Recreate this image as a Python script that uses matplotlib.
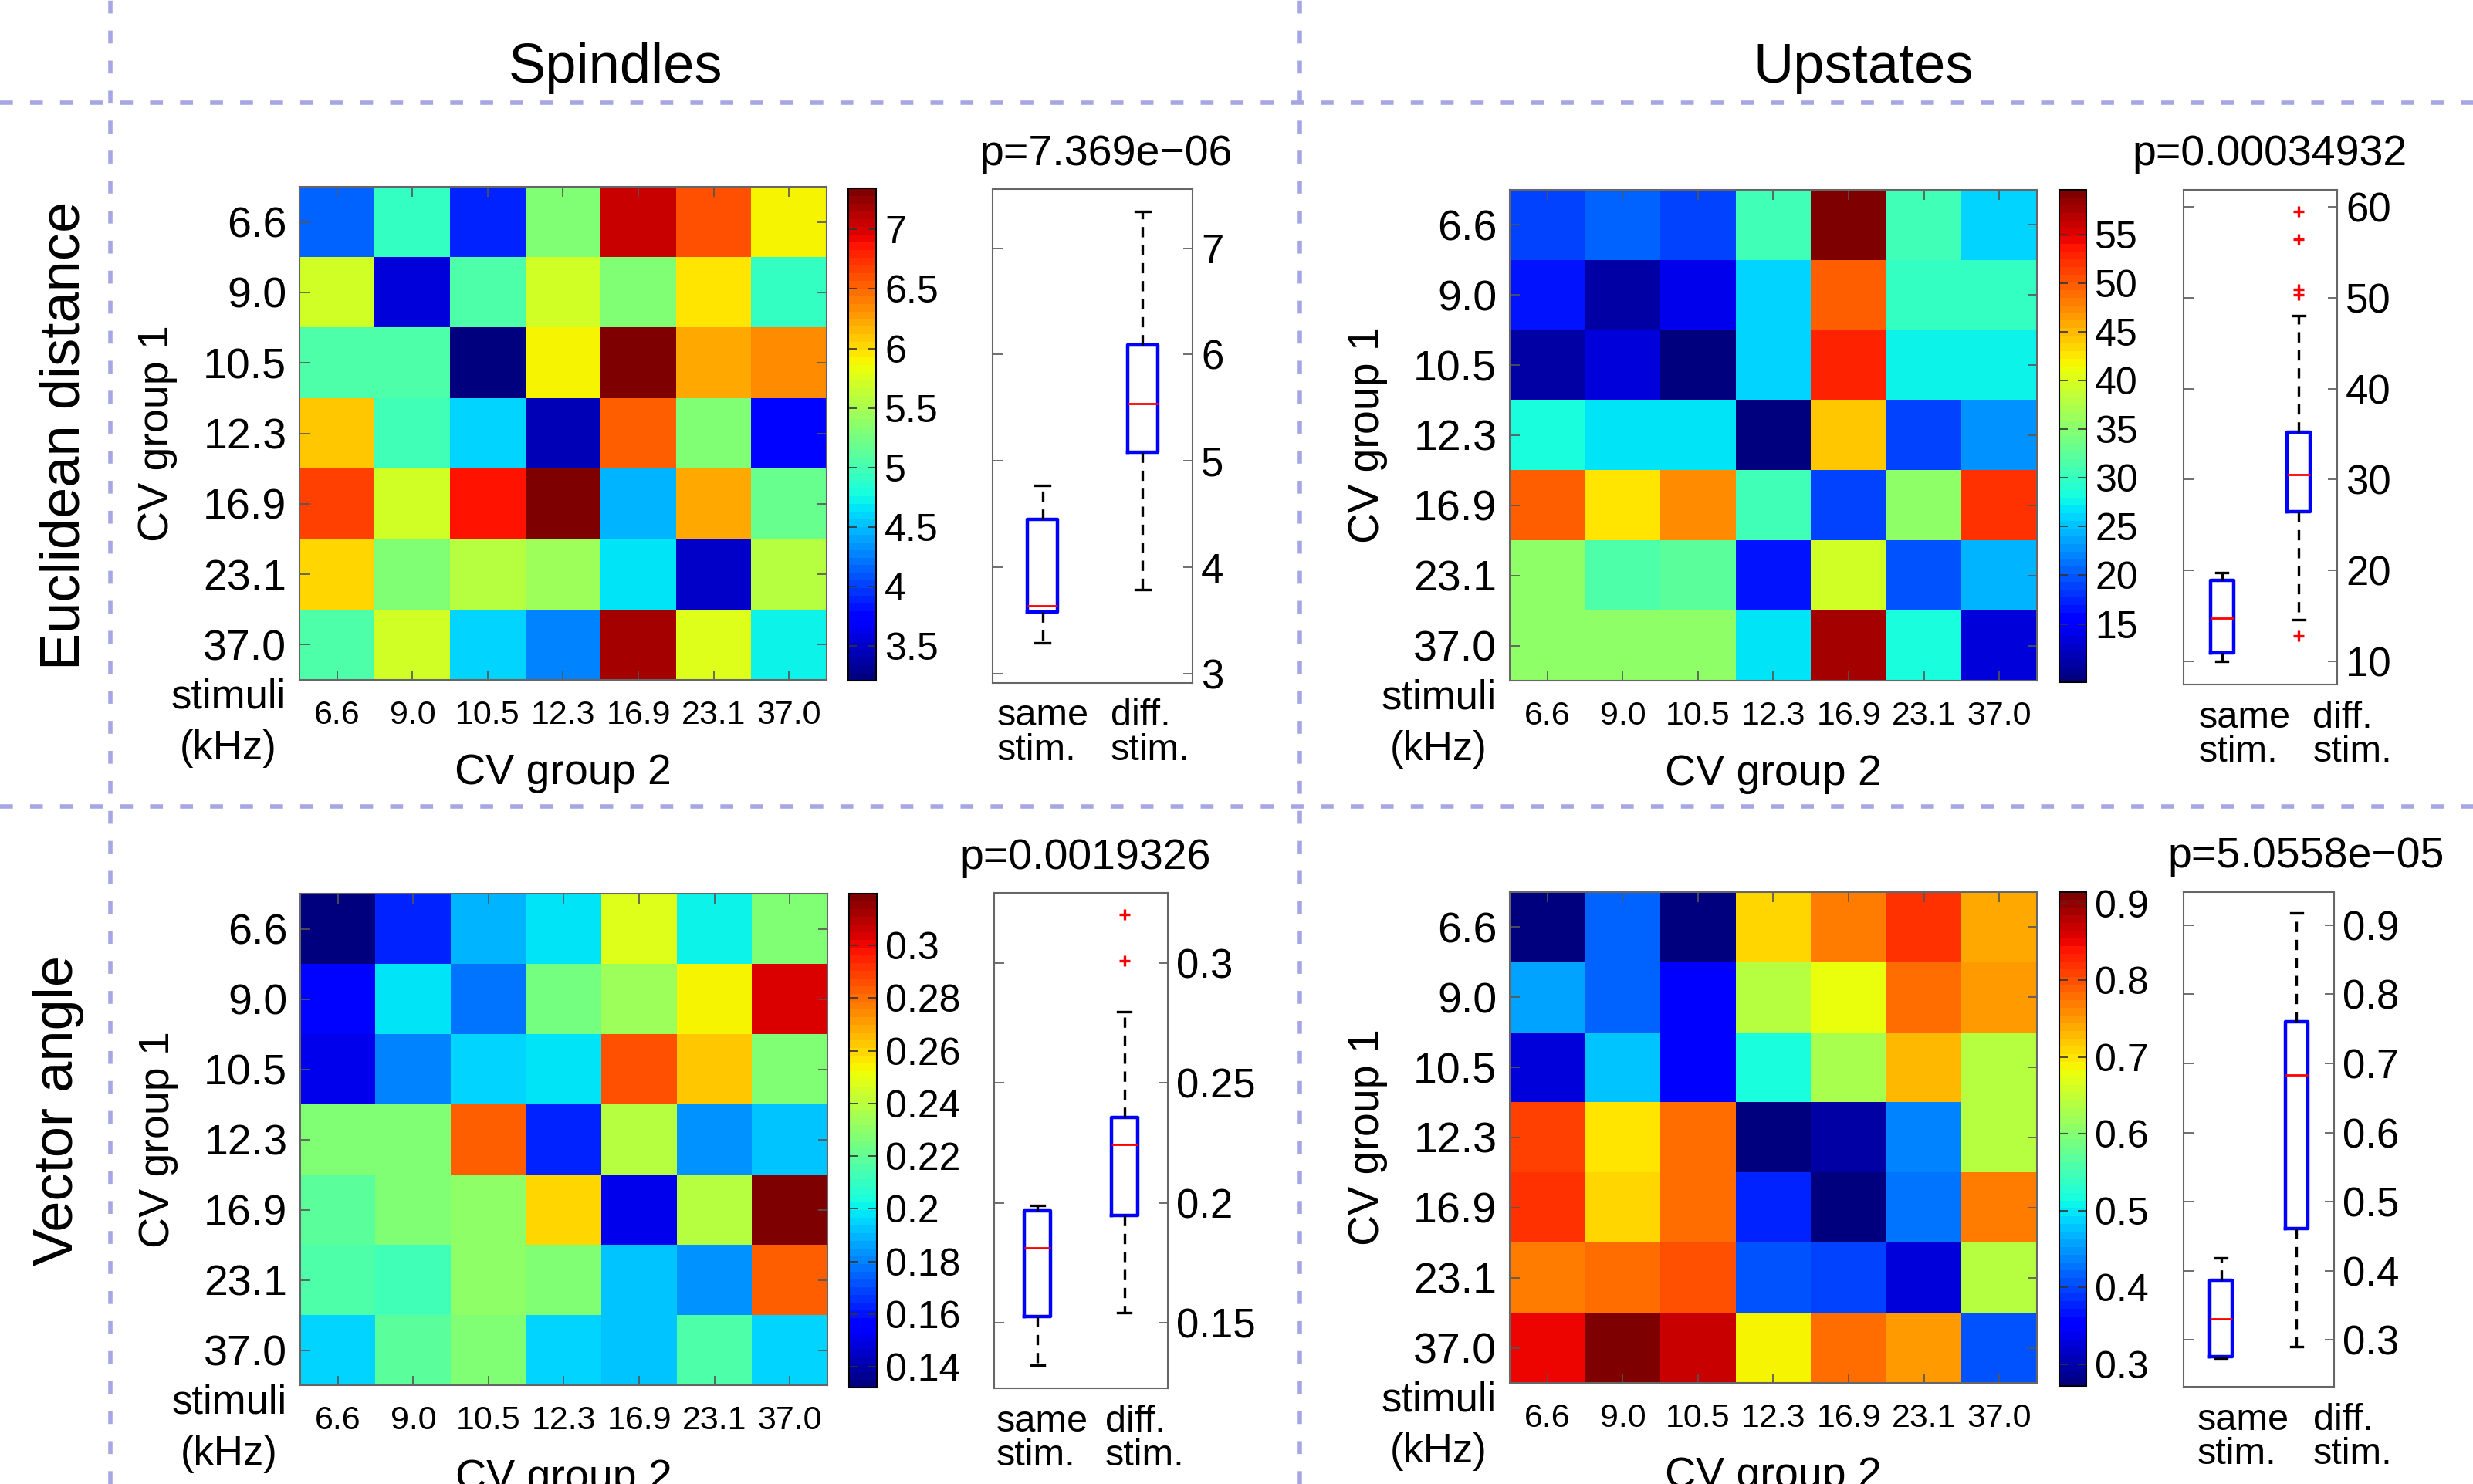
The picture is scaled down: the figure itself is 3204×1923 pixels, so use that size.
import numpy as np
import matplotlib
matplotlib.use("Agg")
import matplotlib.pyplot as plt
from matplotlib.lines import Line2D
from matplotlib.ticker import FormatStrFormatter

plt.rcParams['font.family'] = ['Liberation Sans', 'DejaVu Sans']

W, H = 3205, 1923

freqs = ['6.6', '9.0', '10.5', '12.3', '16.9', '23.1', '37.0']

# rows = CV group 1, cols = CV group 2
spindle_dist = [
    [4.14, 4.91, 3.86, 5.34, 7.07, 6.62, 5.86],
    [5.68, 3.54, 5.07, 5.68, 5.34, 5.94, 4.91],
    [5.07, 5.05, 3.21, 5.92, 7.345, 6.23, 6.35],
    [6.08, 4.99, 4.62, 3.42, 6.51, 5.30, 3.79],
    [6.67, 5.68, 6.83, 7.34, 4.48, 6.23, 5.17],
    [6.00, 5.34, 5.60, 5.43, 4.69, 3.48, 5.60],
    [5.07, 5.68, 4.62, 4.28, 7.19, 5.77, 4.70],
]
upstate_dist = [
    [18.6, 20.1, 18.5, 30.8, 59.56, 30.8, 26.3],
    [16.5, 10.9, 13.8, 26.3, 49.3, 29.7, 29.7],
    [10.9, 13.1, 9.4, 26.3, 53.2, 27.2, 27.7],
    [28.7, 27.1, 26.5, 9.02, 44.1, 18.5, 22.5],
    [49.7, 42.4, 47.7, 30.8, 18.5, 35.1, 52.3],
    [35.1, 31.8, 32.5, 16.6, 39.2, 19.3, 24.6],
    [35.1, 35.1, 35.1, 27.1, 57.7, 28.7, 13.1],
]
spindle_angle = [
    [0.1334, 0.1617, 0.1899, 0.1993, 0.2484, 0.2015, 0.2268],
    [0.1584, 0.1993, 0.1762, 0.2250, 0.2327, 0.2550, 0.3047],
    [0.1499, 0.1790, 0.1963, 0.1993, 0.2869, 0.2615, 0.2287],
    [0.2268, 0.2287, 0.2831, 0.1617, 0.2403, 0.1837, 0.1931],
    [0.2193, 0.2268, 0.2306, 0.2587, 0.1499, 0.2403, 0.3197],
    [0.2165, 0.2128, 0.2306, 0.2268, 0.1931, 0.1820, 0.2816],
    [0.1963, 0.2193, 0.2268, 0.1963, 0.1931, 0.2165, 0.1963],
]
upstate_angle = [
    [0.276, 0.416, 0.280, 0.712, 0.770, 0.822, 0.741],
    [0.458, 0.416, 0.342, 0.634, 0.683, 0.784, 0.753],
    [0.323, 0.481, 0.342, 0.522, 0.630, 0.728, 0.634],
    [0.810, 0.696, 0.780, 0.2715, 0.295, 0.438, 0.634],
    [0.822, 0.706, 0.780, 0.373, 0.276, 0.427, 0.770],
    [0.770, 0.784, 0.802, 0.405, 0.402, 0.323, 0.634],
    [0.851, 0.915, 0.873, 0.690, 0.780, 0.748, 0.412],
]

clim_sd = (3.21, 7.345)
clim_ud = (9.02, 59.56)
clim_sa = (0.1321, 0.3197)
clim_ua = (0.2715, 0.915)

cticks_sd = [3.5, 4, 4.5, 5, 5.5, 6, 6.5, 7]
cticks_ud = [15, 20, 25, 30, 35, 40, 45, 50, 55]
cticks_sa = [0.14, 0.16, 0.18, 0.2, 0.22, 0.24, 0.26, 0.28, 0.3]
cticks_ua = [0.3, 0.4, 0.5, 0.6, 0.7, 0.8, 0.9]

# box stats: whislo, q1, med, q3, whishi
same_sd = [3.29, 3.58, 3.64, 4.45, 4.77]
diff_sd = [3.79, 5.08, 5.54, 6.09, 7.345]
same_ud = [10.0, 10.93, 14.75, 18.9, 19.73]
diff_ud = [14.6, 26.43, 30.58, 35.2, 48.03]
fliers_ud = [12.8, 50.36, 50.97, 56.5, 59.5]
same_sa = [0.1322, 0.1526, 0.1813, 0.1967, 0.199]
diff_sa = [0.1543, 0.1948, 0.2244, 0.2355, 0.2798]
fliers_sa = [0.3009, 0.3202]
same_ua = [0.2734, 0.276, 0.330, 0.386, 0.4186]
diff_ua = [0.2904, 0.4609, 0.6838, 0.7605, 0.9174]

bylim_sd, byticks_sd = (2.913, 7.556), [3, 4, 5, 6, 7]
bylim_ud, byticks_ud = (7.44, 61.9), [10, 20, 30, 40, 50, 60]
bylim_sa, byticks_sa = (0.1227, 0.3292), [0.15, 0.2, 0.25, 0.3]
bylim_ua, byticks_ua = (0.232, 0.948), [0.3, 0.4, 0.5, 0.6, 0.7, 0.8, 0.9]

pvals = ['p=7.369e\u221206', 'p=0.00034932', 'p=0.0019326', 'p=5.0558e\u221205']
box_names = ['same\nstim.', 'diff.\nstim.']

cmap = plt.get_cmap('jet', 64)


def rect(r):
    x0, y0, x1, y1 = r
    return [x0 / W, 1 - y1 / H, (x1 - x0) / W, (y1 - y0) / H]


def stat(v, fl=()):
    return dict(whislo=v[0], q1=v[1], med=v[2], q3=v[3], whishi=v[4], fliers=list(fl))


def panel(fig, hm, clim, cticks, same, diff, fl, bylim, byticks, ptxt,
          hm_r, cb_r, bx_r, p_xy, lab_x):
    ax = fig.add_axes(rect(hm_r))
    im = ax.imshow(np.array(hm), cmap=cmap, vmin=clim[0], vmax=clim[1],
                   aspect='auto', interpolation='nearest')
    ax.set_xticks(range(7))
    ax.set_xticklabels(freqs, fontsize=31)
    ax.set_yticks(range(7))
    ax.set_yticklabels(freqs, fontsize=40)
    ax.tick_params(direction='in', length=9, width=1.2, color='#555555',
                   top=True, right=True)
    ax.tick_params(axis='x', pad=19)
    ax.tick_params(axis='y', pad=12)
    for s in ax.spines.values():
        s.set_color('#666666')
        s.set_linewidth(1.5)
    ax.text(-0.135, -0.035, 'stimuli', transform=ax.transAxes,
            ha='center', va='center', fontsize=38)
    ax.text(-0.135, -0.14, '(kHz)', transform=ax.transAxes,
            ha='center', va='center', fontsize=38)
    ax.text(0.5, -0.19, 'CV group 2', transform=ax.transAxes,
            ha='center', va='center', fontsize=40)
    ax.text(-0.27, 0.5, 'CV group 1', transform=ax.transAxes, rotation=90,
            ha='center', va='center', fontsize=40)

    cax = fig.add_axes(rect(cb_r))
    cb = fig.colorbar(im, cax=cax, ticks=cticks)
    cb.ax.yaxis.set_major_formatter(FormatStrFormatter('%g'))
    cb.ax.tick_params(direction='in', length=8, width=1.2, color='#333333',
                      left=True, right=True, labelsize=36, pad=8)
    cb.outline.set_linewidth(1.5)

    bx = fig.add_axes(rect(bx_r))
    bx.bxp([stat(same), stat(diff, fl)], positions=[1, 2], widths=0.3,
           capwidths=0.15, showfliers=True,
           boxprops=dict(color='blue', lw=3.2),
           medianprops=dict(color='red', lw=2),
           whiskerprops=dict(color='black', lw=2.4, linestyle=(0, (4, 3))),
           capprops=dict(color='black', lw=2.4),
           flierprops=dict(marker='+', markeredgecolor='red', markersize=10,
                           mew=2.4, linestyle='none'))
    bx.set_xlim(0.5, 2.5)
    bx.set_ylim(*bylim)
    bx.set_yticks(byticks)
    bx.yaxis.set_major_formatter(FormatStrFormatter('%g'))
    bx.yaxis.tick_right()
    bx.tick_params(axis='y', direction='in', length=9, width=1.2,
                   color='#555555', left=True, right=True, labelsize=38, pad=8)
    bx.set_xticks([])
    for xf, name in zip(lab_x, box_names):
        bx.text(xf, -0.032, name, transform=bx.transAxes, ha='left', va='top',
                fontsize=35, linespacing=0.98, multialignment='left')
    for s in bx.spines.values():
        s.set_color('#666666')
        s.set_linewidth(1.5)
    fig.text(p_xy[0] / W, 1 - p_xy[1] / H, ptxt, ha='center', va='center',
             fontsize=40)


fig = plt.figure(figsize=(W / 100, H / 100), dpi=100)

panel(fig, spindle_dist, clim_sd, cticks_sd, same_sd, diff_sd, [],
      bylim_sd, byticks_sd, pvals[0],
      (388, 242, 1071, 881), (1099, 244, 1135, 882), (1286, 245, 1545, 885),
      (1433, 200), (0.02, 0.59))
panel(fig, upstate_dist, clim_ud, cticks_ud, same_ud, diff_ud, fliers_ud,
      bylim_ud, byticks_ud, pvals[1],
      (1956, 246, 2639, 882), (2668, 246, 2703, 884), (2829, 246, 3028, 887),
      (2940, 200), (0.1, 0.84))
panel(fig, spindle_angle, clim_sa, cticks_sa, same_sa, diff_sa, fliers_sa,
      bylim_sa, byticks_sa, pvals[2],
      (389, 1158, 1072, 1795), (1100, 1158, 1136, 1798), (1288, 1157, 1513, 1799),
      (1406, 1112), (0.01, 0.64))
panel(fig, upstate_angle, clim_ua, cticks_ua, same_ua, diff_ua, [],
      bylim_ua, byticks_ua, pvals[3],
      (1956, 1156, 2639, 1792), (2668, 1156, 2703, 1796), (2829, 1156, 3024, 1797),
      (2988, 1110), (0.09, 0.86))

# headers and row labels
fig.text(797 / W, 1 - 88 / H, 'Spindles', ha='center', va='center', fontsize=52)
fig.text(2414 / W, 1 - 88 / H, 'Upstates', ha='center', va='center', fontsize=52)
fig.text(84 / W, 1 - 564 / H, 'Euclidean distance', rotation=90,
         ha='center', va='center', fontsize=52)
fig.text(76 / W, 1 - 1439 / H, 'Vector angle', rotation=90,
         ha='center', va='center', fontsize=52)

# dotted separators
sep = dict(transform=fig.transFigure, color='#a6a6e3', lw=4,
           linestyle=(0, (3, 4)))
for yy in (133, 1045):
    fig.add_artist(Line2D([0, 1], [1 - yy / H] * 2, **sep))
for xx in (143, 1684):
    fig.add_artist(Line2D([xx / W] * 2, [0, 1], **sep))

fig.savefig('out.png', dpi=100)
